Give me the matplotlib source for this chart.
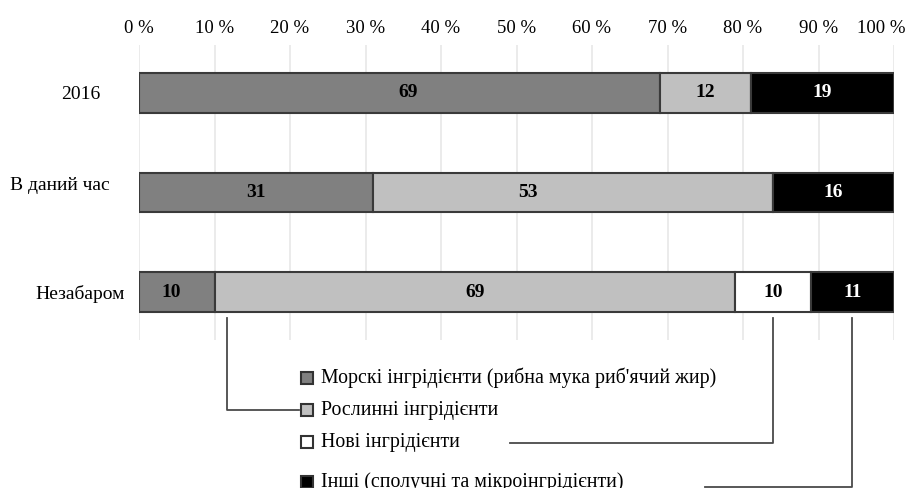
import numpy as np
import matplotlib
matplotlib.use("Agg")
from matplotlib import pyplot as plt
from matplotlib.lines import Line2D
from matplotlib.transforms import ScaledTranslation

plt.rcParams['font.family'] = ['Liberation Serif', 'DejaVu Serif']

periods = ["2016", "В даний час", "Незабаром"]
series = [
    "Морскі інгрідієнти (рибна мука риб'ячий жир)",
    "Рослинні інгрідієнти",
    "Нові інгрідієнти",
    "Інші (сполучні та мікроінгрідієнти)",
]
marine = [69, 31, 10]
plant = [12, 53, 69]
novel = [0, 0, 10]
other = [19, 16, 11]
ticks = np.arange(0, 101, 10)

colors = ["#808080", "#c0c0c0", "#ffffff", "#000000"]
text_colors = ["black", "black", "black", "white"]
# horizontal nudges (px) for a few value labels, per series and row
label_shift = {(0, 0): 9, (1, 1): -45, (0, 2): -6}

W, H = 909, 488
fig = plt.figure(figsize=(W / 100, H / 100), dpi=100)


def fx(px):
    return px / W


def fy(py):
    return 1 - py / H


def shift(dx, dy):
    return ScaledTranslation(dx / 100, -dy / 100, fig.dpi_scale_trans)


# plot area: 0..100 % spans 139..894 px, grid from 45 to 340 px
ax = fig.add_axes([fx(139), fy(340), fx(894) - fx(139), fy(45) - fy(340)])
y = np.arange(len(periods))
left = np.zeros(len(periods))
for si, (vals, c, tc) in enumerate(zip([marine, plant, novel, other], colors, text_colors)):
    vals = np.array(vals, dtype=float)
    ax.barh(y, vals, left=left, height=0.4, color=c, edgecolor="#3a3a3a",
            linewidth=1.5, zorder=3)
    for yi, (l, v) in enumerate(zip(left, vals)):
        if v > 0:
            ax.text(l + v / 2, yi, f"{int(v)}", ha="center", va="center",
                    fontsize=14, fontweight="bold", color=tc, zorder=4,
                    transform=ax.transData + shift(label_shift.get((si, yi), 0), 0))
    left += vals

ax.set_xlim(0, 100)
ax.set_ylim(2.48, -0.48)
ax.set_xticks(ticks)
ax.set_xticklabels([f"{t} %" for t in ticks], fontsize=13.5)
ax.xaxis.tick_top()
ax.tick_params(axis="x", length=0, pad=6)
last = ax.get_xticklabels()[-1]
last.set_transform(last.get_transform() + shift(-13, 0))

ax.set_yticks(y)
ax.set_yticklabels(periods, fontsize=14)
ax.tick_params(axis="y", length=0, pad=28)
for lbl, dx, dy in zip(ax.get_yticklabels(), [0, 10, 25], [0, -9, 0]):
    lbl.set_transform(lbl.get_transform() + shift(dx, dy))

ax.grid(axis="x", color="#e8e8e8", linewidth=1.2, zorder=0)
for s in ax.spines.values():
    s.set_visible(False)

# legend below the chart
legend_rows = [378, 410, 442, 482]
for name, c, py in zip(series, colors, legend_rows):
    fig.add_artist(Line2D([fx(307)], [fy(py)], marker="s", markersize=8,
                          markerfacecolor=c, markeredgecolor="#333333",
                          markeredgewidth=1.5, linestyle="none"))
    fig.text(fx(321), fy(py), name, fontsize=14.3, va="center", ha="left")


# connectors from the last row's segments to the legend
def px_of(v):
    return 139 + v * 7.55


line_kw = dict(color="#4a4a4a", linewidth=1.3)
x_plant = px_of(marine[2] + 1.7)
fig.add_artist(Line2D([fx(x_plant), fx(x_plant), fx(299)],
                      [fy(318), fy(410), fy(410)], **line_kw))
x_new = px_of(marine[2] + plant[2] + novel[2] / 2)
fig.add_artist(Line2D([fx(510), fx(x_new), fx(x_new)],
                      [fy(443), fy(443), fy(318)], **line_kw))
x_other = px_of(100 - other[2] / 2)
fig.add_artist(Line2D([fx(705), fx(x_other), fx(x_other)],
                      [fy(486.5), fy(486.5), fy(318)], **line_kw))

fig.savefig("out.png", dpi=100)
